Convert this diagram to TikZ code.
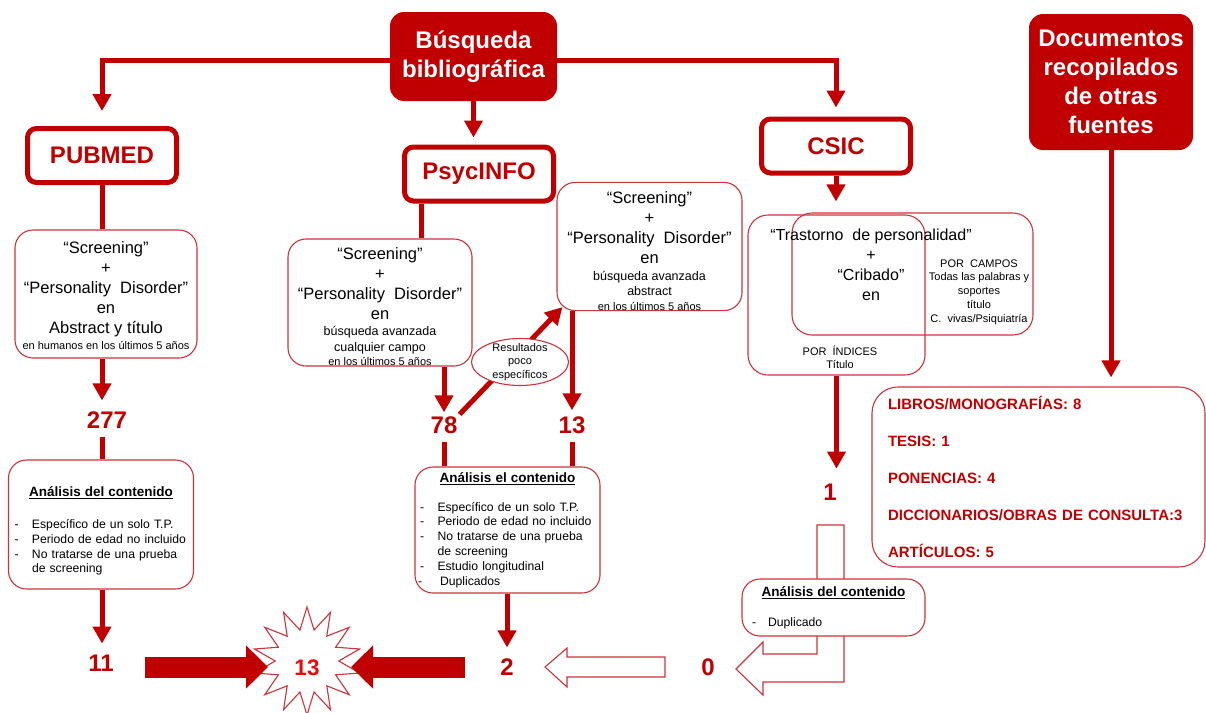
\documentclass[tikz,border=0pt]{standalone}
\usepackage{fontspec}
\setmainfont{Liberation Sans}
\usetikzlibrary{arrows.meta,shapes.geometric}
\definecolor{rojo}{RGB}{192,0,0}
\definecolor{rojofino}{RGB}{206,50,58}
\definecolor{rojovivo}{RGB}{235,10,10}
\newcommand{\letragrande}{\fontsize{16.5}{20}\selectfont}
\newcommand{\letramed}{\fontsize{12.5}{15}\selectfont}
\newcommand{\letrapeq}{\fontsize{11}{14}\selectfont}
\newcommand{\guion}[1]{\makebox[17.5pt][l]{-}\mbox{#1}}
\newcommand{\titana}[1]{\underline{\fontsize{13.5}{15}\selectfont\bfseries #1}}
\begin{document}
\begin{tikzpicture}[x=1pt,y=-1pt,
    titulo/.style={rectangle,rounded corners=14pt,fill=rojo,text=white,align=center,
      font=\fontsize{24}{29}\selectfont\bfseries},
    basedatos/.style={rectangle,rounded corners=9pt,draw=rojo,line width=5pt,text=rojo,
      minimum width=149pt,minimum height=54pt,font=\fontsize{24}{24}\selectfont\bfseries},
    caja/.style={rectangle,rounded corners=18pt,draw=rojofino,line width=1.1pt,fill=white,
      align=center,inner sep=0pt,font=\letragrande},
    analisis/.style={rectangle,rounded corners=18pt,draw=rojofino,line width=1.1pt,fill=white,
      align=left,inner ysep=0pt,font=\fontsize{12.2}{14.8}\selectfont},
    cifra/.style={text=rojo,font=\fontsize{24}{24}\selectfont\bfseries,inner sep=2pt},
    nota/.style={align=center,inner sep=0pt,font=\fontsize{11}{13.75}\selectfont},
    linea/.style={draw=rojo,line width=5pt},
    flecha/.style={linea,-{Triangle[width=18pt,length=17pt]}},
    gorda/.style={draw=rojo,line width=21pt,-{Triangle[width=42pt,length=22pt]}},
    hueca/.style={draw=rojofino,line width=1.1pt,fill=white,line join=miter},
  ]
\useasboundingbox (0,0) rectangle (1206,712);

\node[titulo,minimum width=167pt,minimum height=89pt] (busq) at (473.5,56.5) {Búsqueda\\bibliográfica};
\node[titulo,minimum width=164pt,minimum height=136pt] (docs) at (1111,82) {Documentos\\recopilados\\de otras\\fuentes};

\node[basedatos] (pubmed) at (102,155.5) {PUBMED};
\node[basedatos] (psyc) at (479,174) {PsycINFO};
\node[basedatos] (csic) at (836,146) {CSIC};

\node[caja,minimum width=182pt,minimum height=128pt] (scrPub) at (106,294)
  {\rule{0pt}{16pt}“Screening”\\+\\“Personality~ Disorder”\\en\\Abstract y título\\[-4pt]{\letrapeq en humanos en los últimos 5 años}};
\node[caja,minimum width=184pt,minimum height=127pt] (scrPsyA) at (380,302.5)
  {\rule{0pt}{20pt}“Screening”\\+\\“Personality~ Disorder”\\en\\[-4pt]{\letramed búsqueda avanzada}\\[-4pt]{\letramed cualquier campo}\\[-6pt]{\letrapeq en los últimos 5 años}};
\node[caja,minimum width=185pt,minimum height=127pt] (scrPsyB) at (649.5,246.5)
  {\rule{0pt}{21pt}“Screening”\\+\\“Personality~ Disorder”\\en\\[-3pt]{\letramed búsqueda avanzada}\\[-5pt]{\letramed abstract}\\[-5pt]{\letrapeq en los últimos 5 años}};

\node[caja,fill=none,rounded corners=20pt,minimum width=177pt,minimum height=160pt] (csA) at (836.5,295) {};
\node[caja,fill=none,rounded corners=20pt,minimum width=241pt,minimum height=122pt] (csB) at (912.5,274) {};
\node[align=center,inner sep=0pt,font=\fontsize{16}{20}\selectfont] (csTxt) at (871,264.5) {“Trastorno~ de personalidad”\\+\\“Cribado”\\en};
\node[nota] (csCampos) at (979,292) {POR~ CAMPOS\\Todas las palabras y\\soportes\\título\\C.~ vivas/Psiquiatría};
\node[nota] (csIndices) at (840,357.5) {POR~ ÍNDICES\\[-1pt]Título};

\node[cifra] (n277) at (107,420) {277};
\node[cifra] (n78) at (444,425) {78};
\node[cifra] (n13) at (572,425) {13};
\node[cifra] (n11) at (101,663) {11};
\node[cifra] (n2) at (507,667) {2};
\node[cifra] (n1) at (830,492) {1};
\node[cifra] (n0) at (708,667) {0};

\node[analisis,text width=173pt,inner xsep=6pt,minimum height=129pt] (anaPub) at (101,524.5)
  {\makebox[173pt][c]{\rule{0pt}{23pt}\titana{Análisis del contenido}}\\[17.2pt]
   \guion{Específico de un solo T.P.}\\
   \guion{Periodo de edad no incluido}\\
   \makebox[17.5pt][l]{-}\makebox[155.5pt][s]{No tratarse de una prueba}\\
   \hspace*{17.5pt}de screening};
\node[analisis,text width=175pt,inner xsep=5pt,minimum height=126pt] (anaPsy) at (507.5,530)
  {\makebox[175pt][c]{\titana{Análisis el contenido}}\\[14.2pt]
   \guion{Específico de un solo T.P.}\\
   \guion{Periodo de edad no incluido}\\
   \makebox[17.5pt][l]{-}\makebox[155.5pt][s]{No tratarse de una prueba}\\
   \hspace*{17.5pt}de screening\\
   \guion{Estudio longitudinal}\\
   \makebox[20pt][l]{\hspace*{-2pt}-}Duplicados};

\node[rectangle,rounded corners=26pt,draw=rojofino,line width=1.1pt,align=left,text width=301pt,
  inner xsep=16pt,minimum height=180pt,text=rojo,font=\fontsize{15}{37}\selectfont\bfseries] (lista) at (1038.5,477)
  {LIBROS/MONOGRAFÍAS: 8\\TESIS: 1\\PONENCIAS: 4\\DICCIONARIOS/OBRAS DE CONSULTA:3\\ARTÍCULOS: 5};

\draw[flecha,shorten >=15pt] ([yshift=-4pt]busq.west) -| (pubmed.north);
\draw[flecha,shorten >=9pt] ([yshift=-4pt]busq.east) -| (csic.north);
\draw[flecha,shorten >=7pt] (busq.south) -- (busq.south |- psyc.north);

\draw[linea] (pubmed.south) -- (pubmed.south |- scrPub.north);
\draw[flecha,shorten >=9pt] (pubmed.south |- scrPub.south) -- (pubmed.south |- n277.north);
\draw[linea,shorten <=6pt] (pubmed.south |- n277.south) -- (pubmed.south |- anaPub.north);
\draw[flecha,shorten >=9pt] (pubmed.south |- anaPub.south) -- (pubmed.south |- n11.north);

\coordinate (psycPie) at ([xshift=-58pt]psyc.south);
\draw[linea] (psycPie) -- (psycPie |- scrPsyA.north);
\draw[flecha,shorten >=2pt] (n78 |- scrPsyA.south) -- (n78.north);
\draw[flecha,shorten >=4pt] (n13 |- scrPsyB.south) -- (n13.north);
\draw[flecha] (n78.north east) -- ([shift={(6,-4)}]scrPsyB.south west);
\node[ellipse,draw=rojofino,line width=1.1pt,fill=white,minimum width=97pt,minimum height=47pt,inner sep=0pt] (res) at (520,362) {};
\node[nota] (resTxt) at (res) {Resultados\\poco\\específicos};
\draw[linea,shorten <=6pt] (n78.south) -- (n78.south |- anaPsy.north);
\draw[linea,shorten <=6pt] (n13.south) -- (n13.south |- anaPsy.north);
\draw[flecha,shorten >=9pt] (n2 |- anaPsy.south) -- (n2.north);

\draw[flecha,shorten >=13pt] (csic.south) -- (csic.south |- csA.north);
\draw[flecha,shorten >=13pt] (csA.south) -- (csA.south |- n1.north);
\draw[flecha,shorten >=9pt] (docs.south) -- (docs.south |- lista.north);

\draw[hueca] (817,525) -- (844,525) -- (844,682) -- (763,682) -- (763,695) -- (736,669) -- (763,642) -- (763,654) -- (817,654) -- cycle;
\node[analisis,text width=163pt,inner xsep=10pt,minimum height=57pt] (anaCs) at (833.5,607.5)
  {\makebox[163pt][c]{\titana{Análisis del contenido}}\\[15pt]
   \makebox[16pt][l]{-}Duplicado};
\draw[hueca] (665,657) -- (567,657) -- (567,648) -- (545,667) -- (567,687) -- (567,677) -- (665,677) -- cycle;

\node[star,star points=14,star point ratio=1.7,minimum size=108pt,inner sep=0pt,draw=rojofino,line width=1.1pt,
  fill=white,text=rojovivo,font=\fontsize{22.5}{22.5}\selectfont\bfseries] (total) at (307,661) {\raisebox{-6pt}[16pt][0pt]{13}};
\draw[gorda,shorten <=29pt,shorten >=39pt] (n11.east |- 0,667) -- (total.center |- 0,667);
\draw[gorda,shorten <=33pt,shorten >=44pt] (n2.west |- 0,667) -- (total.center |- 0,667);
\end{tikzpicture}
\end{document}
